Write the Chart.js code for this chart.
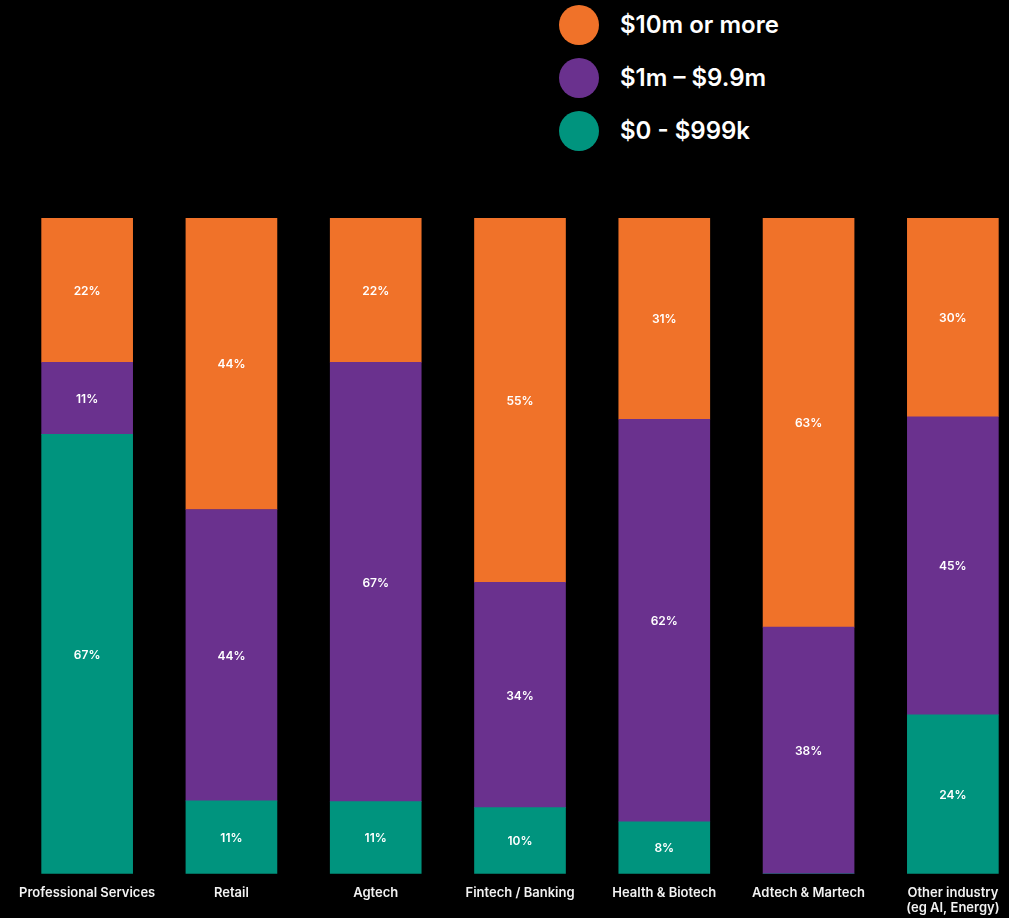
<!DOCTYPE html>
<html>
<head>
<meta charset="utf-8">
<script src="https://cdn.jsdelivr.net/npm/chart.js@4/dist/chart.umd.min.js"></script>
<style>
  html, body { margin: 0; padding: 0; background: #000; overflow: hidden; }
  body { width: 1009px; height: 918px; position: relative; font-family: Inter, "Noto Sans", sans-serif; }
  #wrap { position: absolute; left: 0; top: 0; width: 1025px; height: 919px; }
  .legend { position: absolute; left: 559px; top: -2px; color: #fff; font-weight: 600; font-size: 24px; }
  .legend div { height: 53px; display: flex; align-items: center; }
  .legend span.dot { width: 40px; height: 40px; border-radius: 50%; display: inline-block; margin-right: 21px; }
</style>
</head>
<body>
<div class="legend">
  <div><span class="dot" style="background:#F07229"></span>$10m or more</div>
  <div><span class="dot" style="background:#6A318E"></span>$1m – $9.9m</div>
  <div><span class="dot" style="background:#00947E"></span>$0 - $999k</div>
</div>
<div id="wrap"><canvas id="chart"></canvas></div>
<script>
// категории и значения (в процентах)
const categories = [
    'Professional Services', 'Retail', 'Agtech', 'Fintech / Banking',
    'Health & Biotech', 'Adtech & Martech', ['Other industry', '(eg AI, Energy)']
];
const small = [67, 11, 11, 10, 8, 0, 24];     // $0 - $999k
const mid = [11, 44, 67, 34, 62, 38, 45];     // $1m – $9.9m
const large = [22, 44, 22, 55, 31, 63, 30];   // $10m or more

const seriesNames = ['$0 - $999k', '$1m – $9.9m', '$10m or more'];
const colors = ['#00947E', '#6A318E', '#F07229'];

// каждый столбец доводим до 100%
const totals = small.map((v, i) => v + mid[i] + large[i]);
const share = arr => arr.map((v, i) => v / totals[i] * 100);
const raw = [small, mid, large];

// подписи внутри сегментов
const barLabels = {
    id: 'barLabels',
    afterDatasetsDraw(chart) {
        const ctx = chart.ctx;
        ctx.save();
        ctx.fillStyle = '#fff';
        ctx.font = '600 12px Inter';
        ctx.textAlign = 'center';
        ctx.textBaseline = 'middle';
        chart.data.datasets.forEach((ds, di) => {
            chart.getDatasetMeta(di).data.forEach((bar, i) => {
                const v = raw[di][i];
                if (!v) return;
                const y = (bar.y + bar.base) / 2;
                ctx.fillText(v + '%', bar.x, y + 1);
            });
        });
        ctx.restore();
    }
};

new Chart(document.getElementById('chart'), {
    type: 'bar',
    data: {
        labels: categories,
        datasets: [small, mid, large].map((arr, i) => ({
            label: seriesNames[i],
            data: share(arr),
            backgroundColor: colors[i],
            borderWidth: 0,
            barThickness: 91
        }))
    },
    options: {
        responsive: true,
        maintainAspectRatio: false,
        animation: false,
        layout: { padding: { left: 15, right: 0, top: 218, bottom: 0 } },
        plugins: { legend: { display: false }, tooltip: { enabled: false } },
        scales: {
            x: {
                stacked: true,
                grid: { display: false },
                border: { display: false },
                ticks: {
                    color: '#f2f2f2',
                    font: { family: 'Inter', size: 13, weight: '600' },
                    autoSkip: false,
                    maxRotation: 0,
                    padding: 3
                }
            },
            y: {
                stacked: true,
                display: false,
                min: 0,
                max: 100
            }
        }
    },
    plugins: [barLabels]
});
</script>
</body>
</html>
